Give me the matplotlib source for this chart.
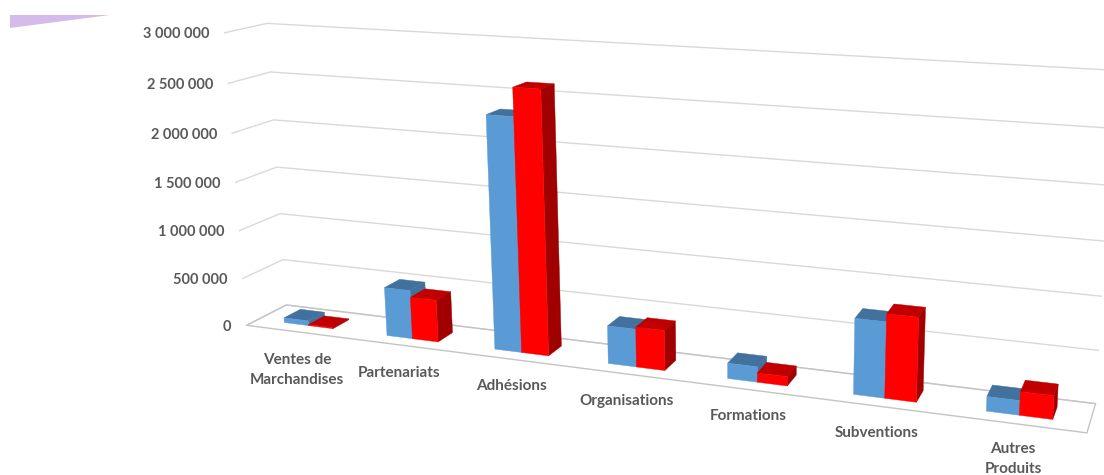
import numpy as np
import matplotlib
matplotlib.use('Agg')
import matplotlib.pyplot as plt
from matplotlib.patches import Polygon

# data
categories = ['Ventes de\nMarchandises', 'Partenariats', 'Adhésions', 'Organisations',
              'Formations', 'Subventions', 'Autres\nProduits']
blue_values = [50000, 500000, 2330000, 375000, 150000, 720000, 136000]
red_values = [10000, 430000, 2610000, 395000, 90000, 795000, 218000]
ticks = [0, 500000, 1000000, 1500000, 2000000, 2500000, 3000000]
tick_labels = ['0', '500 000', '1 000 000', '1 500 000', '2 000 000', '2 500 000', '3 000 000']
zmax = 3000000.

plt.rcParams['font.family'] = ['Lato', 'DejaVu Sans']

# camera: fit a projection from the corners of the chart box
# (u along categories, v depth, z value) -> pixels
box_3d = [(0, 0, 0), (0, 1, 0), (1, 1, 0), (1, 0, 0), (0, 0, 1), (0, 1, 1), (1, 1, 1),
          (1, 1, 1/3.), (1, 1, 2/3.), (0, 1, 1/3.), (0, 1, 2/3.)]
box_px = [(247, 325), (285, 305), (1095, 403), (1087, 433), (224, 33), (267, 23), (1113, 70),
          (1102, 297), (1108, 185), (281, 214), (274, 120)]
A = []
for (u, v, z), (x, y) in zip(box_3d, box_px):
    A.append([u, v, z, 1, 0, 0, 0, 0, -x*u, -x*v, -x*z, -x])
    A.append([0, 0, 0, 0, u, v, z, 1, -y*u, -y*v, -y*z, -y])
P = np.linalg.svd(np.array(A, dtype=float))[2][-1].reshape(3, 4)


def project(u, v, z):
    p = P @ np.array([u, v, z, 1.])
    return p[0]/p[2], p[1]/p[2]


fig = plt.figure(figsize=(11.04, 4.75), dpi=100)
ax = fig.add_axes([0, 0, 1, 1])
ax.set_xlim(0, 1104)
ax.set_ylim(475, 0)
ax.axis('off')

# purple shape in the corner
ax.add_patch(Polygon([(10, 15), (110, 15), (10, 28)], fc='#D5BBEA', ec='none'))

# gridlines on the two walls
for t in ticks:
    z = t/zmax
    pts = [project(0, 0, z), project(0, 1, z), project(1, 1, z)]
    ax.plot([p[0] for p in pts], [p[1] for p in pts], color='#D9D9D9', lw=1, zorder=1)

# floor
floor = [project(0, 0, 0), project(1, 0, 0), project(1, 1, 0), project(0, 1, 0)]
ax.add_patch(Polygon(floor, fc='none', ec='#C4C4C4', lw=1, zorder=1))

n = len(categories)
bar_w = 0.24/n
v0, v1 = 0.29, 0.71
shift = 0.


def draw_bar(u0, u1, val, front, top, side):
    z = val/zmax
    a, b = u0, u1
    ax.add_patch(Polygon([project(a, v0, z), project(b, v0, z), project(b, v1, z), project(a, v1, z)],
                         fc=top, ec=top, lw=0.3, zorder=3))
    ax.add_patch(Polygon([project(b, v0, 0), project(b, v1, 0), project(b, v1, z), project(b, v0, z)],
                         fc=side, ec=side, lw=0.3, zorder=3))
    ax.add_patch(Polygon([project(a, v0, 0), project(b, v0, 0), project(b, v0, z), project(a, v0, z)],
                         fc=front, ec=front, lw=0.3, zorder=3))


for i in range(n):
    uc = (i+0.5)/n + shift
    draw_bar(uc-bar_w, uc, blue_values[i], '#5B9BD5', '#41719C', '#41719C')
    draw_bar(uc, uc+bar_w, red_values[i], '#FF0000', '#C00000', '#A00000')

# axis labels
for t, lab in zip(ticks, tick_labels):
    x, y = project(0, 0, t/zmax)
    ax.text(x-15, y+1.5, lab, ha='right', va='center', fontsize=10.5, fontweight='bold', color='#595959')

label_xy = [(297, 370), (399, 373), (511, 386), (627, 401), (748, 416), (877, 433), (1013, 459)]
for lab, (x, y) in zip(categories, label_xy):
    ax.text(x, y, lab, ha='center', va='center', fontsize=11, fontweight='bold', color='#595959',
            linespacing=1.5)

plt.savefig('out.png', dpi=100)
